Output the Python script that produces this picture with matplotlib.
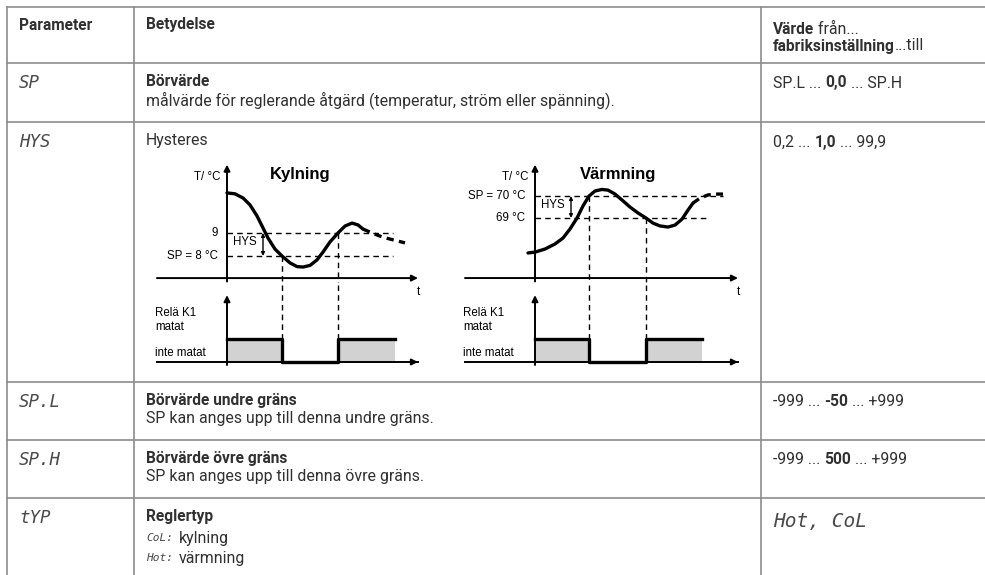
import matplotlib.pyplot as plt

plt.rcParams['font.family'] = ['Roboto', 'DejaVu Sans']

W, H = 985, 575
TXT = '#303030'
GRID = '#8c8c8c'
GREY = '#d2d2d2'
FS = 11.4      # regular text
FSB = 11.2     # bold text
SEG = dict(family='DejaVu Sans Mono', style='oblique', color='#4a4a4a')
DIA = dict(family=['Liberation Sans', 'DejaVu Sans'], color='black')

# ---- table data
col_x = [7, 134, 761]
row_y = [7, 63, 122, 382, 440, 498]

header = ['Parameter', 'Betydelse']
codes = ['SP', 'HYS', 'SP.L', 'SP.H', 'tYP']
titles = ['Börvärde', 'Hysteres', 'Börvärde undre gräns', 'Börvärde övre gräns', 'Reglertyp']
title_bold = [True, False, True, True, True]
descs = ['målvärde för reglerande åtgärd (temperatur, ström eller spänning).', '',
         'SP kan anges upp till denna undre gräns.',
         'SP kan anges upp till denna övre gräns.', '']
values = [[('SP.L ... ', False), ('0,0', True), (' ... SP.H', False)],
          [('0,2 ... ', False), ('1,0', True), (' ... 99,9', False)],
          [('-999 ... ', False), ('-50', True), (' ... +999', False)],
          [('-999 ... ', False), ('500', True), (' ... +999', False)],
          None]
typ_codes = ['CoL:', 'Hot:']
typ_names = ['kylning', 'värmning']
typ_value = 'Hot, CoL'

# ---- diagram data: Kylning (cooling), time units / °C
cool_t = [0, 0.8, 1.6, 2.3, 3.0, 3.6, 4.1, 4.8, 5.5, 6.3, 7.0, 7.6, 8.3, 9.0,
          9.6, 10.3, 11.1, 11.8, 12.5, 13.1, 13.6]
cool_T = [10.74, 10.70, 10.52, 10.22, 9.74, 9.22, 8.78, 8.30, 8.00, 7.70, 7.54,
          7.52, 7.59, 7.83, 8.17, 8.61, 9.00, 9.30, 9.43, 9.35, 9.17]
cool_t_dash = [13.6, 14.5, 15.5, 16.6, 17.8]
cool_T_dash = [9.17, 9.00, 8.83, 8.70, 8.57]
cool_relay_t = [0, 5.5, 5.5, 11.1, 11.1, 16.8]
cool_relay_on = [1, 1, 0, 0, 1, 1]

# ---- diagram data: Värmning (heating)
heat_t = [-0.7, 0, 1.0, 2.0, 2.8, 3.5, 4.2, 4.8, 5.4, 6.0, 6.7, 7.3, 8.0, 8.7,
          9.5, 10.3, 11.1, 11.8, 12.5, 13.3, 14.0, 14.7, 15.3, 15.8]
heat_T = [67.41, 67.45, 67.59, 67.82, 68.09, 68.5, 69.0, 69.55, 70.0, 70.23,
          70.30, 70.27, 70.09, 69.82, 69.5, 69.23, 69.0, 68.77, 68.64, 68.59,
          68.68, 68.95, 69.36, 69.68]
heat_t_dash = [15.8, 16.5, 17.3, 18.1, 18.8]
heat_T_dash = [69.68, 69.91, 70.05, 70.09, 70.09]
heat_relay_t = [0, 5.4, 5.4, 11.1, 11.1, 16.7]
heat_relay_on = [1, 1, 0, 0, 1, 1]

fig = plt.figure(figsize=(W / 100, H / 100), dpi=100)
ax = fig.add_axes([0, 0, 1, 1])
ax.set_xlim(0, W)
ax.set_ylim(H, 0)
ax.axis('off')
renderer = fig.canvas.get_renderer()


def text_width(s, **kw):
    t = ax.text(0, 0, '|' + s + '|', **kw)
    w1 = t.get_window_extent(renderer).width
    t.set_text('||')
    w2 = t.get_window_extent(renderer).width
    t.remove()
    return w1 - w2


def rich(x, y, parts):
    for s, bold in parts:
        kw = dict(fontsize=FSB if bold else FS,
                  fontweight='bold' if bold else 'normal', color=TXT)
        ax.text(x, y, s, va='center', ha='left', **kw)
        x += text_width(s, **kw)


# table grid
for y in row_y:
    ax.plot([col_x[0], W], [y, y], color=GRID, lw=1.2)
for x in col_x:
    ax.plot([x, x], [row_y[0], H], color=GRID, lw=1.2)

ax.text(19, 25, header[0], fontsize=FSB, fontweight='bold', color=TXT, va='center')
ax.text(146, 25, header[1], fontsize=FSB, fontweight='bold', color=TXT, va='center')
rich(773, 29, [('Värde', True), (' från...', False)])
rich(773, 46, [('fabriksinställning', True), ('...till', False)])

for i, top in enumerate(row_y[1:]):
    ax.text(19, top + 20, codes[i], fontsize=12.5, va='center', **SEG)
    ax.text(146, top + 19, titles[i], color=TXT, va='center',
            fontsize=FSB if title_bold[i] else FS,
            fontweight='bold' if title_bold[i] else 'normal')
    if descs[i]:
        ax.text(146, top + 37, descs[i], fontsize=FS, color=TXT, va='center')
    if values[i]:
        rich(773, top + 20, values[i])

top = row_y[-1]
for j, (c, n) in enumerate(zip(typ_codes, typ_names)):
    yy = top + 40 + j * 20
    ax.text(146, yy, c, fontsize=8, va='center', **SEG)
    ax.text(146 + text_width(c, fontsize=8, **SEG) + 6, yy, n, fontsize=FS,
            color=TXT, va='center')
ax.text(773, top + 24, typ_value, fontsize=14, va='center', **SEG)


def px_axes(x0, y0, x1, y1):
    a = fig.add_axes([x0 / W, 1 - y1 / H, (x1 - x0) / W, (y1 - y0) / H])
    a.axis('off')
    return a


def arrow(a, tail, tip, lw=1.4, style='-|>', ms=9):
    a.annotate('', xy=tip, xytext=tail, annotation_clip=False,
               arrowprops=dict(arrowstyle=style, lw=lw, color='k',
                               mutation_scale=ms, shrinkA=0, shrinkB=0))


def diagram(box, xlim, ylim, t0, tmax, t, T, td, Td, lo, hi, sw_lo, sw_hi,
            line_end, title, lab_lo, lab_hi, lab_x, rt, ron, title_x):
    x0, x1 = box
    a = px_axes(x0, 160, x1, 282)
    a.set_xlim(*xlim)
    a.set_ylim(*ylim)
    u = (ylim[1] - ylim[0]) / 5.3
    arrow(a, (0, t0 - 0.15 * u), (0, ylim[1] - 0.2 * u))
    arrow(a, (-7, t0), (tmax, t0))
    for lvl, end in ((lo, line_end[0]), (hi, line_end[1])):
        a.plot([0, end], [lvl, lvl], color='k', lw=1, ls=(0, (4, 3)), clip_on=False)
    a.plot(t, T, color='k', lw=2.4, solid_capstyle='round', clip_on=False)
    a.plot(td, Td, color='k', lw=2.4, ls=(0, (2.2, 1.6)), clip_on=False)
    for s, lvl in (sw_lo, sw_hi):
        a.plot([s, s], [lvl, ylim[0]], color='k', lw=1, ls=(0, (4, 3)), clip_on=False)
    a.text(-0.6, ylim[1] - 0.75 * u, 'T/ °C', fontsize=8.3, ha='right', va='center', **DIA)
    a.text(title_x, ylim[1] - 0.62 * u, title, fontsize=12, fontweight='bold',
           ha='left', va='center', **DIA)
    a.text(lab_x, hi, lab_hi, fontsize=8.3, ha='right', va='center', **DIA)
    a.text(lab_x, lo, lab_lo, fontsize=8.3, ha='right', va='center', **DIA)
    a.text(0.6, (lo + hi) / 2 + 0.1 * u, 'HYS', fontsize=8.3, ha='left', va='center', **DIA)
    arrow(a, (3.6, lo), (3.6, hi), lw=1, style='<|-|>', ms=5)
    a.text(tmax, t0 - 0.6 * u, 't', fontsize=8.3, ha='center', va='center', **DIA)

    r = px_axes(x0, 285, x1, 372)
    r.set_xlim(*xlim)
    r.set_ylim(-0.435, 3.35)
    arrow(r, (0, -0.13), (0, 2.91))
    r.plot([-7, tmax], [0, 0], color='k', lw=1.4, clip_on=False)
    arrow(r, (tmax - 0.5, 0), (tmax, 0))
    r.fill_between(rt, 0, ron, where=[v > 0 for v in ron], color=GREY, lw=0)
    r.plot(rt, ron, color='k', lw=2.4, clip_on=False)
    for s in (sw_lo[0], sw_hi[0]):
        r.plot([s, s], [3.35, 0], color='k', lw=1, ls=(0, (4, 3)), clip_on=False)
    r.text(-7.2, 2.13, 'Relä K1', fontsize=8.3, ha='left', va='center', **DIA)
    r.text(-7.2, 1.52, 'matat', fontsize=8.3, ha='left', va='center', **DIA)
    r.text(-7.2, 0.39, 'inte matat', fontsize=8.3, ha='left', va='center', **DIA)


diagram((147, 422), (-8, 19.5), (6.87, 12.17), 7.04, 19.1, cool_t, cool_T,
        cool_t_dash, cool_T_dash, 8, 9, (5.5, 8), (11.1, 9), (16.6, 16.6),
        'Kylning', 'SP = 8 °C', '9', -0.9, cool_relay_t, cool_relay_on, 4.3)
diagram((455, 745), (-8, 21), (66.09, 71.64), 66.27, 20.3, heat_t, heat_T,
        heat_t_dash, heat_T_dash, 69, 70, (11.1, 69), (5.4, 70), (17.5, 18.8),
        'Värmning', '69 °C', 'SP = 70 °C', -1.0, heat_relay_t, heat_relay_on, 4.5)

fig.savefig('out.png', dpi=100)
